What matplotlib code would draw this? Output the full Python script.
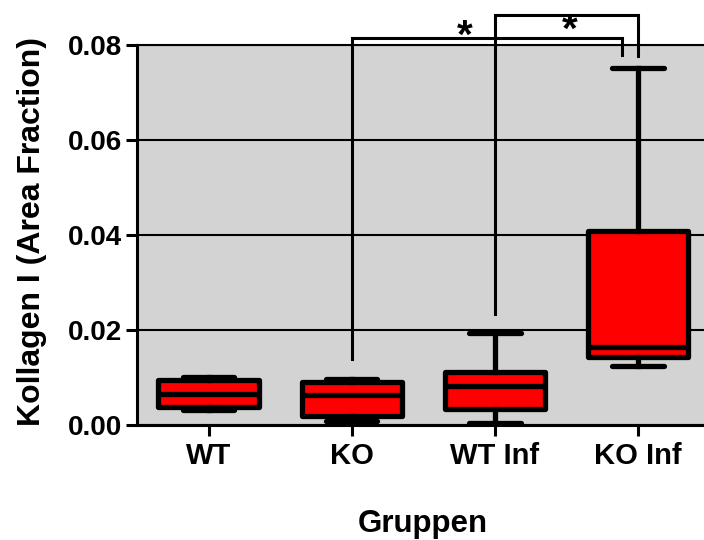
import matplotlib
matplotlib.use("Agg")
import matplotlib.pyplot as plt

plt.rcParams['font.family'] = ['Liberation Sans', 'DejaVu Sans']
plt.rcParams['font.weight'] = 'bold'

groups = ["WT", "KO", "WT Inf", "KO Inf"]
whislo = [0.0031, 0.0008, 0.0004, 0.0124]
q1 = [0.0038, 0.0019, 0.0034, 0.0143]
med = [0.0066, 0.0063, 0.0082, 0.0164]
q3 = [0.0094, 0.0090, 0.0111, 0.0409]
whishi = [0.0101, 0.0097, 0.0193, 0.0752]
yticks = [0.00, 0.02, 0.04, 0.06, 0.08]

# significance brackets: (group index a, y start a, y end b, top y)
sig_pairs = [(1, 0.0138, 0.0779, 0.0815), (2, 0.0233, 0.0777, 0.0863)]
sig_ends = [3.89, 4.0]
sig_labels = ["*", "*"]

fig = plt.figure(figsize=(7.04, 5.40), dpi=100)
ax = fig.add_axes([137/704, 115/540, (709.5-137)/704, 380/540])
ax.set_facecolor('#d3d3d3')

stats = []
for i, g in enumerate(groups):
    stats.append(dict(label=g, whislo=whislo[i], q1=q1[i], med=med[i],
                      q3=q3[i], whishi=whishi[i], fliers=[]))
pos = list(range(1, len(groups) + 1))
ax.yaxis.grid(True, color='black', linewidth=1.5, zorder=0)
ax.set_axisbelow(True)
ax.bxp(stats, positions=pos, widths=0.7, patch_artist=True, showfliers=False,
       boxprops=dict(facecolor='#ff0000', edgecolor='black', linewidth=3.8, joinstyle='round'),
       medianprops=dict(color='black', linewidth=3.8),
       whiskerprops=dict(color='black', linewidth=3.8),
       capprops=dict(color='black', linewidth=3.8, solid_capstyle='round'),
       capwidths=0.36)

# brackets
for (a, ya, yb, top), xe in zip(sig_pairs, sig_ends):
    xa = pos[a]
    ax.plot([xa, xa, xe, xe], [ya, top, top, yb], color='black', linewidth=2.2,
            clip_on=False, zorder=5, solid_joinstyle='miter')
ax.text(2.79, 0.0777, sig_labels[0], ha='center', va='bottom', fontsize=29, fontweight='bold')
ax.text(3.52, 0.0790, sig_labels[1], ha='center', va='bottom', fontsize=29, fontweight='bold')

ax.set_xlim(0.5, 4.5)
ax.set_ylim(0, 0.08)
ax.set_yticks(yticks)
ax.set_yticklabels([f"{v:.2f}" for v in yticks])
ax.set_xticks(pos)
ax.set_xticklabels(groups)
for s in ['left', 'bottom']:
    ax.spines[s].set_linewidth(2.2)
ax.spines['top'].set_linewidth(1.5)
ax.spines['right'].set_visible(False)
ax.tick_params(axis='y', direction='out', length=8, width=2.2, labelsize=20, pad=3)
ax.tick_params(axis='x', direction='out', length=8, width=2.2, labelsize=21, pad=4)
for lbl in ax.get_xticklabels() + ax.get_yticklabels():
    lbl.set_fontweight('bold')
ax.set_ylabel('Kollagen I (Area Fraction)', fontsize=23, fontweight='bold', labelpad=15)
ax.yaxis.label.set_y(0.51)
ax.set_xlabel('Gruppen', fontsize=22.5, fontweight='bold', labelpad=28)

fig.savefig('out.png', dpi=100)
